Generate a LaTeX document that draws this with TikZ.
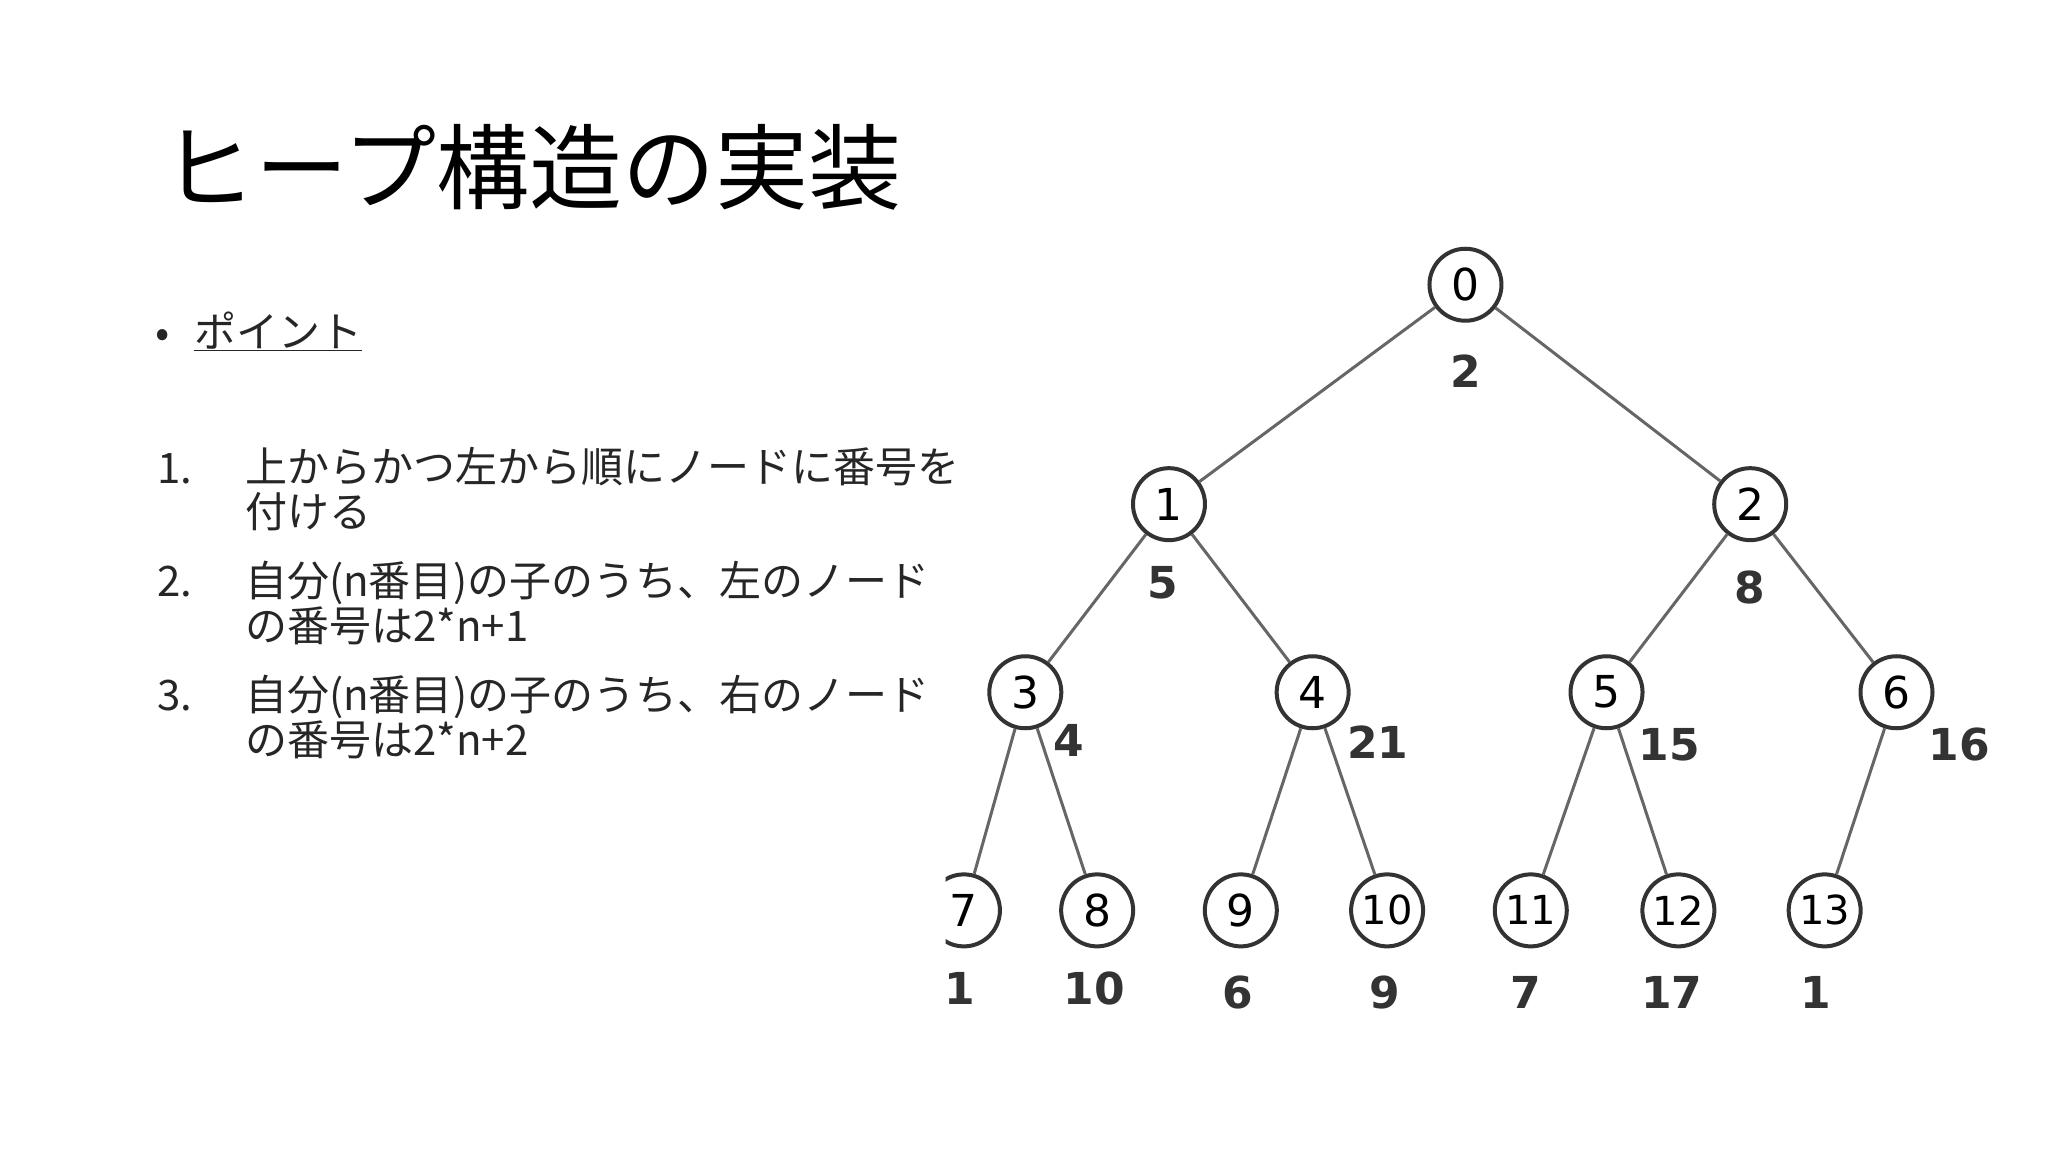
\documentclass[tikz,border=0pt]{standalone}
\usepackage{fontspec}
\setmainfont{Noto Sans CJK JP}
\newfontfamily\treefont{DejaVu Sans}
\begin{document}
\begin{tikzpicture}[x=1.306pt,y=-1.306pt,
  hn/.style={circle,draw=black!80,line width=4pt,minimum size=72pt,inner sep=0pt,font=\treefont\fontsize{44}{44}\selectfont},
  lb/.style={font=\treefont\bfseries\fontsize{44}{44}\selectfont,text=black!80},
  ed/.style={draw=black!60,line width=3pt},
  body/.style={anchor=base west,font=\fontsize{42}{45}\selectfont,text=black!85}]
\useasboundingbox (0,0) rectangle (1568,882);
\node[anchor=west,font=\fontsize{93}{93}\selectfont] (title) at (122,128) {ヒープ構造の実装};
\node[body] (bul) at (116,266) {•};
\node[body] (pt) at (146,266) {\underline{ポイント}};
\node[body] (n1) at (118,370) {1.};
\node[body,align=left,anchor=north west] (t1) at (185,340) {上からかつ左から順にノードに番号を\\付ける};
\node[body] (n2) at (118,457) {2.};
\node[body,align=left,anchor=north west] (t2) at (185,427) {自分(n番目)の子のうち、左のノード\\の番号は2*n+1};
\node[body] (n3) at (118,544) {3.};
\node[body,align=left,anchor=north west] (t3) at (185,514) {自分(n番目)の子のうち、右のノード\\の番号は2*n+2};
\begin{scope}
\clip (724,170) rectangle (1568,800);
\node[hn] (a0) at (1122,218) {0};
\node[hn] (a1) at (895,386) {1};
\node[hn] (a2) at (1340,386) {2};
\node[hn] (a3) at (785,530) {3};
\node[hn] (a4) at (1005,530) {4};
\node[hn] (a5) at (1230,530) {5};
\node[hn] (a6) at (1452,530) {6};
\node[hn] (a7) at (738,697) {7};
\node[hn] (a8) at (840,697) {8};
\node[hn] (a9) at (950,697) {9};
\node[hn,font=\treefont\fontsize{40}{40}\selectfont] (a10) at (1062,697) {10};
\node[hn,font=\treefont\fontsize{40}{40}\selectfont] (a11) at (1172,697) {11};
\node[hn,font=\treefont\fontsize{40}{40}\selectfont] (a12) at (1285,697) {12};
\node[hn,font=\treefont\fontsize{40}{40}\selectfont] (a13) at (1397,697) {13};
\node[lb] (l0) at (1122,284) {2};
\node[lb] (l1) at (890,446) {5};
\node[lb] (l2) at (1340,450) {8};
\node[lb] (l3) at (818,567) {4};
\node[lb] (l4) at (1055,568) {21};
\node[lb] (l5) at (1278,570) {15};
\node[lb] (l6) at (1500,570) {16};
\node[lb] (l7) at (735,757) {1};
\node[lb] (l8) at (838,757) {10};
\node[lb] (l9) at (948,760) {6};
\node[lb] (l10) at (1060,760) {9};
\node[lb] (l11) at (1168,760) {7};
\node[lb] (l12) at (1280,760) {17};
\node[lb] (l13) at (1390,760) {1};
\draw[ed] (a0) -- (a1); \draw[ed] (a0) -- (a2);
\draw[ed] (a1) -- (a3); \draw[ed] (a1) -- (a4);
\draw[ed] (a2) -- (a5); \draw[ed] (a2) -- (a6);
\draw[ed] (a3) -- (a7); \draw[ed] (a3) -- (a8);
\draw[ed] (a4) -- (a9); \draw[ed] (a4) -- (a10);
\draw[ed] (a5) -- (a11); \draw[ed] (a5) -- (a12);
\draw[ed] (a6) -- (a13);
\end{scope}
\end{tikzpicture}
\end{document}
